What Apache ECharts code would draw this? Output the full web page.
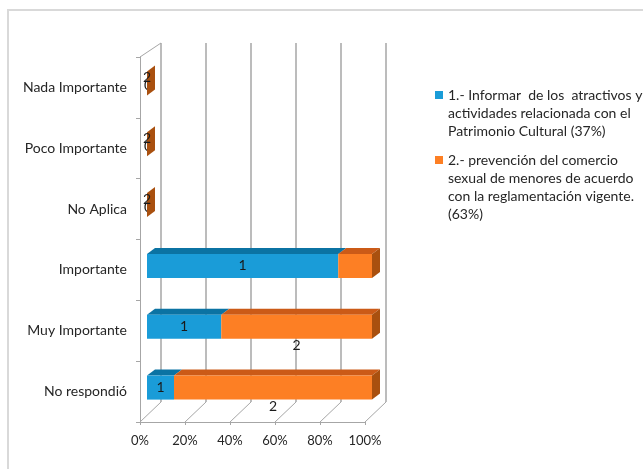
<!DOCTYPE html>
<html>
<head>
<meta charset="utf-8">
<script src="https://cdn.jsdelivr.net/npm/echarts@6/dist/echarts.min.js"></script>
<style>
  html, body { margin: 0; padding: 0; background: #fff; }
  #chart { width: 643px; height: 469px; }
</style>
</head>
<body>
<div id="chart"></div>
<script>
// Response categories, bottom to top
const categories = ['No respondió', 'Muy Importante', 'Importante', 'No Aplica', 'Poco Importante', 'Nada Importante'];

// Series names (legend)
const nameInformar = '1.- Informar  de los  atractivos y\nactividades relacionada con el\nPatrimonio Cultural (37%)';
const namePrevencion = '2.- prevención del comercio\nsexual de menores de acuerdo\ncon la reglamentación vigente.\n(63%)';

// Share of each category (%), per series
const shareInformar = [12, 33, 85, 0, 0, 0];
const sharePrevencion = [88, 67, 15, 0, 0, 0];

// Data label texts shown on the bars
const labelsInformar = ['1', '1', '1', '0', '0', '0'];
const labelsPrevencion = ['2', '2', '', '2', '2', '2'];

// Percent axis ticks
const xTicks = [0, 20, 40, 60, 80, 100];

// ---- 3D box layout ----
const FRONT = { left: 140, top: 57, width: 225, height: 365 };   // front plane (axes)
const BARS = { left: 147, top: 53, width: 225, height: 365 };    // plane of the bar fronts
const BACK = { left: 161, top: 43, width: 225, height: 359 };    // back wall
const DX = 8, DY = 6;                                            // bar depth
const FONT = 'Lato, "Open Sans", sans-serif';
const AXIS_GREY = '#a6a6a6';

const colInformar = { front: '#1a9cd8', top: '#0b73a3', side: '#0b5f88' };
const colPrevencion = { front: '#fd7f24', top: '#cb5a17', side: '#a9500f' };

function makeRender(col, labels, isLast, labelBelow) {
  return function (params, api) {
    const i = api.value(2);
    const a = api.coord([api.value(0), i]);
    const b = api.coord([api.value(1), i]);
    const band = api.size([0, 1])[1];
    const h = band * 0.395;
    const yc = a[1];
    const yt = yc - h / 2, yb = yc + h / 2;
    const x0 = a[0], x1 = b[0];
    const children = [];
    if (x1 > x0) {
      children.push({
        type: 'polygon',
        shape: { points: [[x0, yt], [x1, yt], [x1 + DX, yt - DY], [x0 + DX, yt - DY]] },
        style: { fill: col.top }
      });
      children.push({
        type: 'rect',
        shape: { x: x0, y: yt, width: x1 - x0, height: h },
        style: { fill: col.front }
      });
    }
    if (isLast) {
      children.push({
        type: 'polygon',
        shape: { points: [[x1, yt], [x1 + DX, yt - DY], [x1 + DX, yb - DY], [x1, yb]] },
        style: { fill: col.side }
      });
    }
    const txt = labels[params.dataIndex];
    if (txt) {
      let lx = (x0 + x1) / 2, ly = yc;
      if (x1 - x0 < 1) {
        lx = x0 + (labelBelow ? 0 : 1);
        ly = yc + (labelBelow ? -6 : 2);
      } else if (labelBelow) {
        ly = yc + 19;
      }
      children.push({
        type: 'text',
        style: {
          text: txt, x: lx, y: ly, align: 'center', verticalAlign: 'middle',
          font: '14px ' + FONT, fill: '#1a1a1a'
        },
        z2: 10
      });
    }
    return { type: 'group', children: children };
  };
}

const dataInformar = categories.map((c, i) => [0, shareInformar[i], i]);
const dataPrevencion = categories.map((c, i) => [shareInformar[i], shareInformar[i] + sharePrevencion[i], i]);

const chart = echarts.init(document.getElementById('chart'), null, { renderer: 'canvas' });

const legendText = { fontSize: 14, lineHeight: 18, color: '#262626', fontFamily: FONT };

// Keep the marker level with the first line of a multi-line legend entry
function firstLineOnMarker(name) {
  const extra = name.split('\n').length - 1;
  return '\n'.repeat(extra) + name;
}

const option = {
  animation: false,
  backgroundColor: '#ffffff',
  grid: [
    { left: FRONT.left, top: FRONT.top, width: FRONT.width, height: FRONT.height },
    { left: BARS.left, top: BARS.top, width: BARS.width, height: BARS.height },
    { left: BACK.left, top: BACK.top, width: BACK.width, height: BACK.height }
  ],
  xAxis: [
    {
      gridIndex: 0, type: 'value', min: 0, max: 100, interval: 20,
      axisLine: { show: true, lineStyle: { color: AXIS_GREY, width: 1 } },
      axisTick: { show: true, length: 3, lineStyle: { color: AXIS_GREY } },
      splitLine: { show: false },
      axisLabel: { formatter: '{value}%', margin: 12, fontSize: 13, color: '#262626', fontFamily: FONT }
    },
    { gridIndex: 1, type: 'value', min: 0, max: 100, show: false },
    {
      gridIndex: 2, type: 'value', min: 0, max: 100, interval: 20,
      axisLine: { show: false }, axisTick: { show: false }, axisLabel: { show: false },
      splitLine: { show: true, lineStyle: { color: AXIS_GREY, width: 1.5 } }
    }
  ],
  yAxis: [
    {
      gridIndex: 0, type: 'category', data: categories,
      axisLine: { show: true, lineStyle: { color: AXIS_GREY, width: 1 } },
      axisTick: { show: true, length: 4, lineStyle: { color: AXIS_GREY } },
      axisLabel: { margin: 13, fontSize: 14, color: '#262626', fontFamily: FONT }
    },
    { gridIndex: 1, type: 'category', data: categories, show: false },
    { gridIndex: 2, type: 'value', show: false, splitLine: { show: false } }
  ],
  legend: [
    {
      orient: 'vertical', left: 435, top: 50, padding: 0, icon: 'rect', itemWidth: 8, itemHeight: 8,
      selectedMode: false, formatter: firstLineOnMarker,
      data: [nameInformar],
      textStyle: legendText
    },
    {
      orient: 'vertical', left: 435, top: 97, padding: 0, icon: 'rect', itemWidth: 8, itemHeight: 8,
      selectedMode: false, formatter: firstLineOnMarker,
      data: [namePrevencion],
      textStyle: legendText
    }
  ],
  series: [
    {
      name: nameInformar, type: 'custom', xAxisIndex: 1, yAxisIndex: 1,
      itemStyle: { color: colInformar.front },
      renderItem: makeRender(colInformar, labelsInformar, false, false),
      data: dataInformar, z: 5
    },
    {
      name: namePrevencion, type: 'custom', xAxisIndex: 1, yAxisIndex: 1,
      itemStyle: { color: colPrevencion.front },
      renderItem: makeRender(colPrevencion, labelsPrevencion, true, true),
      data: dataPrevencion, z: 6
    }
  ]
};

chart.setOption(option);

// Floor and side edges of the 3D box, joining the front plane to the back wall
const frontBottom = FRONT.top + FRONT.height;
const backBottom = BACK.top + BACK.height;
const edges = xTicks.map(v => {
  const xf = chart.convertToPixel({ xAxisIndex: 0 }, v);
  const xb = chart.convertToPixel({ xAxisIndex: 2 }, v);
  return {
    type: 'line', z: 1,
    shape: { x1: xf, y1: frontBottom, x2: xb, y2: backBottom },
    style: { stroke: AXIS_GREY, lineWidth: 1 }
  };
});
edges.push({
  type: 'line', z: 1,
  shape: { x1: FRONT.left, y1: FRONT.top, x2: BACK.left, y2: BACK.top },
  style: { stroke: AXIS_GREY, lineWidth: 1 }
});
// Light frame around the chart area
edges.push({
  type: 'rect', z: 0,
  shape: { x: 8, y: 10, width: 700, height: 520 },
  style: { fill: null, stroke: '#d9d9d9', lineWidth: 2 }
});
chart.setOption({ graphic: edges });
</script>
</body>
</html>
